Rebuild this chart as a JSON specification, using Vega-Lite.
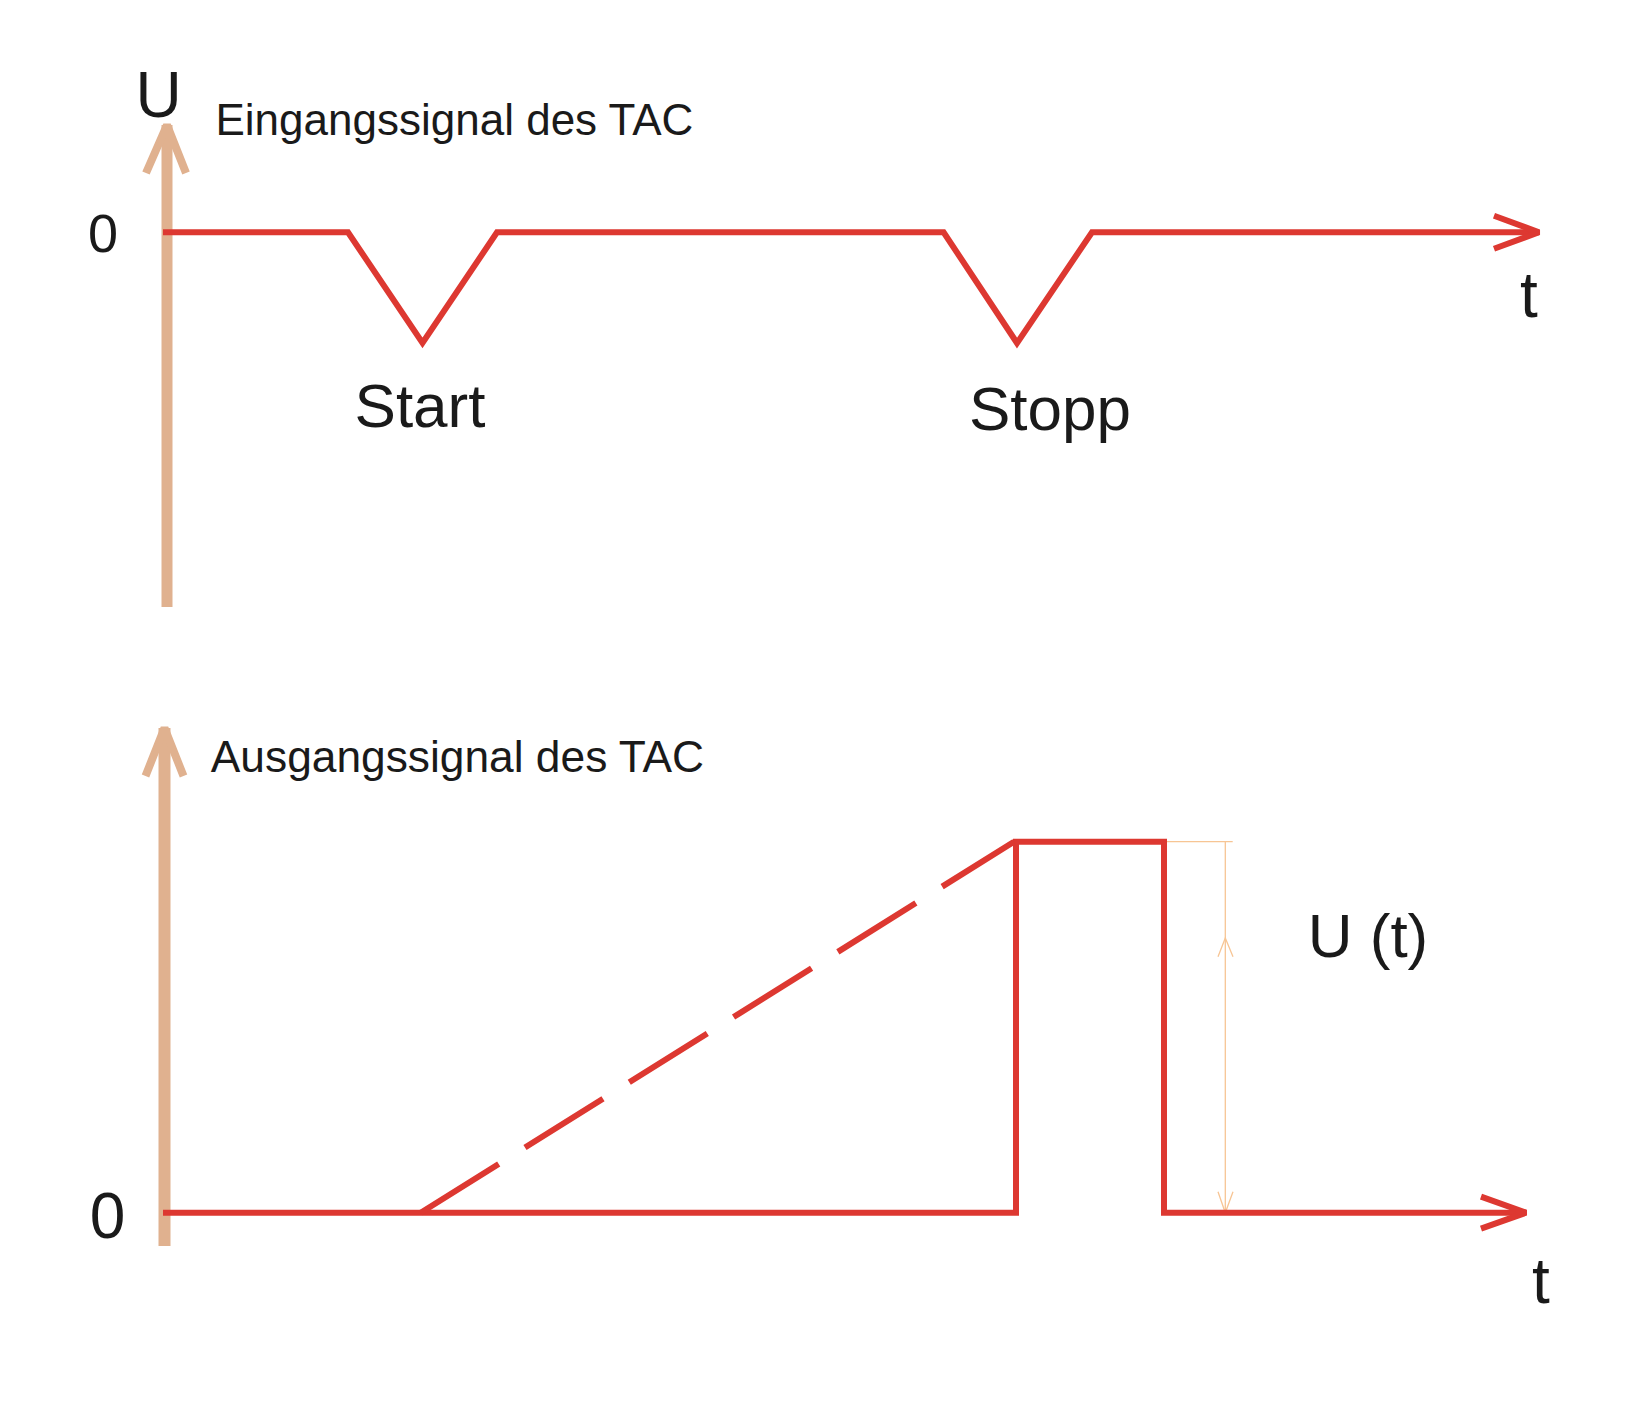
{
  "$schema": "https://vega.github.io/schema/vega-lite/v6.json",
  "padding": 0,
  "spacing": 0,
  "background": "white",
  "config": {"view": {"stroke": null}, "text": {"font": "Liberation Sans", "color": "#1A1A1A", "baseline": "alphabetic"}},
  "datasets": {
    "top_axis": [
      {"part": "shaft", "i": 0, "t": 0.1, "u": -37.47},
      {"part": "shaft", "i": 1, "t": 0.1, "u": 10.73},
      {"part": "head", "i": 0, "t": -2.0, "u": 5.93},
      {"part": "head", "i": 1, "t": 0.1, "u": 10.73},
      {"part": "head", "i": 2, "t": 2.0, "u": 5.93}
    ],
    "top_signal": [
      {"part": "sig", "i": 0, "t": -0.3, "u": 0},
      {"part": "sig", "i": 1, "t": 18.2, "u": 0},
      {"part": "sig", "i": 2, "t": 25.65, "u": -11.07},
      {"part": "sig", "i": 3, "t": 33.1, "u": 0},
      {"part": "sig", "i": 4, "t": 77.76, "u": 0},
      {"part": "sig", "i": 5, "t": 85.1, "u": -11.07},
      {"part": "sig", "i": 6, "t": 92.6, "u": 0},
      {"part": "sig", "i": 7, "t": 137.3, "u": 0},
      {"part": "arrow", "i": 0, "t": 132.8, "u": 1.65},
      {"part": "arrow", "i": 1, "t": 137.3, "u": 0},
      {"part": "arrow", "i": 2, "t": 132.8, "u": -1.65}
    ],
    "top_big": [
      {"label": "U", "t": -0.75, "u": 11.53},
      {"label": "t", "t": 136.3, "u": -8.44}
    ],
    "top_zero": [
      {"label": "0", "t": -6.3, "u": -1.94}
    ],
    "top_title": [
      {"label": "Eingangssignal des TAC", "t": 4.95, "u": 9.73}
    ],
    "top_events": [
      {"label": "Start", "t": 25.4, "u": -19.44},
      {"label": "Stopp", "t": 88.4, "u": -19.77}
    ],
    "bot_axis": [
      {"part": "shaft", "i": 0, "t": -0.15, "u": -3.33},
      {"part": "shaft", "i": 1, "t": -0.15, "u": 48.47},
      {"part": "head", "i": 0, "t": -2.05, "u": 43.67},
      {"part": "head", "i": 1, "t": -0.15, "u": 48.47},
      {"part": "head", "i": 2, "t": 1.75, "u": 43.67}
    ],
    "bot_signal": [
      {"part": "sig", "i": 0, "t": -0.3, "u": 0},
      {"part": "sig", "i": 1, "t": 85.0, "u": 0},
      {"part": "sig", "i": 2, "t": 85.0, "u": 37.1},
      {"part": "sig", "i": 3, "t": 99.8, "u": 37.1},
      {"part": "sig", "i": 4, "t": 99.8, "u": 0},
      {"part": "sig", "i": 5, "t": 136.0, "u": 0},
      {"part": "arrow", "i": 0, "t": 131.5, "u": 1.6},
      {"part": "arrow", "i": 1, "t": 136.0, "u": 0},
      {"part": "arrow", "i": 2, "t": 131.5, "u": -1.6}
    ],
    "bot_ramp": [
      {"part": "ramp", "i": 0, "t": 25.47, "u": 0},
      {"part": "ramp", "i": 1, "t": 84.8, "u": 37.1}
    ],
    "bot_dim": [
      {"part": "line", "i": 0, "t": 105.93, "u": 0},
      {"part": "line", "i": 1, "t": 105.93, "u": 37.1},
      {"part": "tick", "i": 0, "t": 99.9, "u": 37.1},
      {"part": "tick", "i": 1, "t": 106.67, "u": 37.1},
      {"part": "up", "i": 0, "t": 105.2, "u": 25.6},
      {"part": "up", "i": 1, "t": 105.93, "u": 27.47},
      {"part": "up", "i": 2, "t": 106.7, "u": 25.6},
      {"part": "down", "i": 0, "t": 105.2, "u": 2.1},
      {"part": "down", "i": 1, "t": 105.93, "u": 0},
      {"part": "down", "i": 2, "t": 106.7, "u": 2.1}
    ],
    "bot_big": [
      {"label": "0", "t": -5.85, "u": -2.53},
      {"label": "t", "t": 137.5, "u": -9.0}
    ],
    "bot_title": [
      {"label": "Ausgangssignal des TAC", "t": 4.48, "u": 44.1}
    ],
    "bot_ut": [
      {"label": "U (t)", "t": 120.2, "u": 25.57}
    ]
  },
  "vconcat": [
    {
      "width": 1636,
      "height": 704,
      "encoding": {
        "x": {"field": "t", "type": "quantitative", "scale": {"domain": [-16.6, 147.0], "nice": false, "zero": false}, "axis": null},
        "y": {"field": "u", "type": "quantitative", "scale": {"domain": [-47.17, 23.23], "nice": false, "zero": false}, "axis": null}
      },
      "layer": [
        {
          "data": {"name": "top_axis"},
          "transform": [{"filter": "datum.part === 'shaft'"}],
          "mark": {"type": "line", "color": "#E0B18F", "strokeWidth": 11, "strokeCap": "butt"},
          "encoding": {"order": {"field": "i"}, "detail": {"field": "part"}}
        },
        {
          "data": {"name": "top_axis"},
          "transform": [{"filter": "datum.part === 'head'"}],
          "mark": {"type": "line", "color": "#E0B18F", "strokeWidth": 8, "strokeCap": "butt", "strokeJoin": "bevel"},
          "encoding": {"order": {"field": "i"}, "detail": {"field": "part"}}
        },
        {
          "data": {"name": "top_signal"},
          "transform": [{"filter": "datum.part === 'sig'"}],
          "mark": {"type": "line", "color": "#DD3831", "strokeWidth": 6, "strokeCap": "butt", "strokeJoin": "miter"},
          "encoding": {"order": {"field": "i"}, "detail": {"field": "part"}}
        },
        {
          "data": {"name": "top_signal"},
          "transform": [{"filter": "datum.part === 'arrow'"}],
          "mark": {"type": "line", "color": "#DD3831", "strokeWidth": 6, "strokeCap": "butt", "strokeJoin": "bevel"},
          "encoding": {"order": {"field": "i"}, "detail": {"field": "part"}}
        },
        {
          "data": {"name": "top_big"},
          "mark": {"type": "text", "fontSize": 64, "align": "center"},
          "encoding": {"text": {"field": "label"}}
        },
        {
          "data": {"name": "top_zero"},
          "mark": {"type": "text", "fontSize": 54, "align": "center"},
          "encoding": {"text": {"field": "label"}}
        },
        {
          "data": {"name": "top_title"},
          "mark": {"type": "text", "fontSize": 44, "align": "left"},
          "encoding": {"text": {"field": "label"}}
        },
        {
          "data": {"name": "top_events"},
          "mark": {"type": "text", "fontSize": 62, "align": "center"},
          "encoding": {"text": {"field": "label"}}
        }
      ]
    },
    {
      "width": 1636,
      "height": 704,
      "encoding": {
        "x": {"field": "t", "type": "quantitative", "scale": {"domain": [-16.6, 147.0], "nice": false, "zero": false}, "axis": null},
        "y": {"field": "u", "type": "quantitative", "scale": {"domain": [-19.53, 50.87], "nice": false, "zero": false}, "axis": null}
      },
      "layer": [
        {
          "data": {"name": "bot_axis"},
          "transform": [{"filter": "datum.part === 'shaft'"}],
          "mark": {"type": "line", "color": "#E0B18F", "strokeWidth": 12, "strokeCap": "butt"},
          "encoding": {"order": {"field": "i"}, "detail": {"field": "part"}}
        },
        {
          "data": {"name": "bot_axis"},
          "transform": [{"filter": "datum.part === 'head'"}],
          "mark": {"type": "line", "color": "#E0B18F", "strokeWidth": 8, "strokeCap": "butt", "strokeJoin": "bevel"},
          "encoding": {"order": {"field": "i"}, "detail": {"field": "part"}}
        },
        {
          "data": {"name": "bot_dim"},
          "mark": {"type": "line", "color": "#F7C594", "strokeWidth": 1.3, "strokeCap": "butt"},
          "encoding": {"order": {"field": "i"}, "detail": {"field": "part"}}
        },
        {
          "data": {"name": "bot_signal"},
          "transform": [{"filter": "datum.part === 'sig'"}],
          "mark": {"type": "line", "color": "#DD3831", "strokeWidth": 6, "strokeCap": "butt", "strokeJoin": "miter"},
          "encoding": {"order": {"field": "i"}, "detail": {"field": "part"}}
        },
        {
          "data": {"name": "bot_signal"},
          "transform": [{"filter": "datum.part === 'arrow'"}],
          "mark": {"type": "line", "color": "#DD3831", "strokeWidth": 6, "strokeCap": "butt", "strokeJoin": "bevel"},
          "encoding": {"order": {"field": "i"}, "detail": {"field": "part"}}
        },
        {
          "data": {"name": "bot_ramp"},
          "mark": {"type": "line", "color": "#DD3831", "strokeWidth": 6, "strokeCap": "butt", "strokeDash": [92, 31]},
          "encoding": {"order": {"field": "i"}, "detail": {"field": "part"}}
        },
        {
          "data": {"name": "bot_big"},
          "mark": {"type": "text", "fontSize": 64, "align": "center"},
          "encoding": {"text": {"field": "label"}}
        },
        {
          "data": {"name": "bot_title"},
          "mark": {"type": "text", "fontSize": 44.3, "align": "left"},
          "encoding": {"text": {"field": "label"}}
        },
        {
          "data": {"name": "bot_ut"},
          "mark": {"type": "text", "fontSize": 62, "align": "center"},
          "encoding": {"text": {"field": "label"}}
        }
      ]
    }
  ]
}
